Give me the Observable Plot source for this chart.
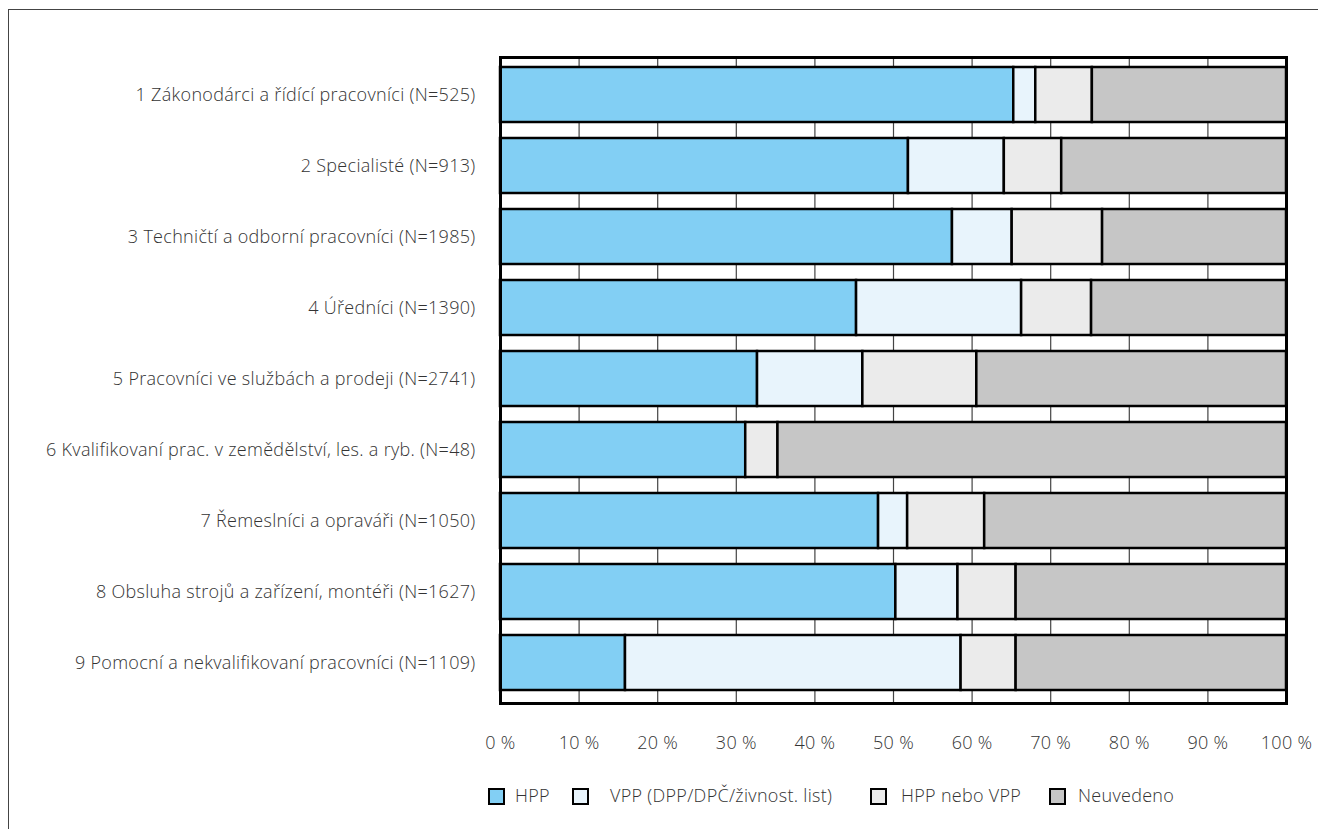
<!DOCTYPE html>
<html><head><meta charset="utf-8">
<script src="https://cdn.jsdelivr.net/npm/d3@7"></script>
<script src="https://cdn.jsdelivr.net/npm/@observablehq/plot@0.6"></script>
<style>
body{margin:0;background:#fff;font-family:"Open Sans",sans-serif;}
#wrap{position:relative;width:1318px;height:829px;overflow:hidden;background:#fff;}
#border{position:absolute;left:8px;top:9px;width:1400px;height:900px;border-left:1.5px solid #444;border-top:1.5px solid #444;}
#chart{position:absolute;left:0;top:0;}
#chart svg text{letter-spacing:0.3px;}
#legend{position:absolute;left:0;top:770px;width:1318px;height:59px;}
.sw{position:absolute;top:18px;width:13px;height:13px;border:2.5px solid #000;}
.lt{position:absolute;top:13px;font-size:18px;font-weight:300;color:#333;white-space:nowrap;line-height:24px;letter-spacing:0.3px;}
</style></head>
<body>
<div id="wrap"><div id="border"></div><div id="chart"></div><div id="legend"></div></div>
<script>
const categories = [
  "1 Zákonodárci a řídící pracovníci (N=525)",
  "2 Specialisté (N=913)",
  "3 Techničtí a odborní pracovníci (N=1985)",
  "4 Úředníci (N=1390)",
  "5 Pracovníci ve službách a prodeji (N=2741)",
  "6 Kvalifikovaní prac. v zemědělství, les. a ryb. (N=48)",
  "7 Řemeslníci a opraváři (N=1050)",
  "8 Obsluha strojů a zařízení, montéři (N=1627)",
  "9 Pomocní a nekvalifikovaní pracovníci (N=1109)"
];
const seriesNames = ["HPP", "VPP (DPP/DPČ/živnost. list)", "HPP nebo VPP", "Neuvedeno"];
const hpp       = [65.3, 51.9, 57.5, 45.3, 32.7, 31.2, 48.1, 50.3, 15.9];
const vpp       = [2.8, 12.2, 7.6, 21.0, 13.4, 0.0, 3.7, 7.9, 42.7];
const hppNeboVpp= [7.2, 7.3, 11.5, 8.9, 14.5, 4.1, 9.8, 7.4, 7.0];
const neuvedeno = [24.7, 28.6, 23.4, 24.8, 39.4, 64.7, 38.4, 34.4, 34.4];
const tickValues = [0, 10, 20, 30, 40, 50, 60, 70, 80, 90, 100];
const colors = ["#82cff4", "#e8f4fc", "#ebebeb", "#c6c6c6"];

const seriesValues = [hpp, vpp, hppNeboVpp, neuvedeno];
const data = [];
categories.forEach((c, i) => {
  seriesNames.forEach((s, j) => data.push({cat: c, series: s, value: seriesValues[j][i]}));
});

const chart = Plot.plot({
  width: 1318, height: 770,
  marginLeft: 500, marginRight: 32, marginTop: 57, marginBottom: 67,
  style: {fontFamily: "'Open Sans', sans-serif", fontSize: "18px", color: "#333", fontWeight: 300, background: "transparent"},
  x: {domain: [0, 100], label: null},
  y: {domain: categories, paddingInner: 0.228, paddingOuter: 0.147, align: 0.43, label: null},
  color: {domain: seriesNames, range: colors},
  marks: [
    Plot.gridX(tickValues, {stroke: "#444", strokeOpacity: 1, strokeWidth: 1.2}),
    Plot.barX(data, Plot.stackX({x: "value", y: "cat", fill: "series", order: seriesNames, stroke: "#000", strokeWidth: 2.5})),
    Plot.frame({stroke: "#000", strokeWidth: 3}),
    Plot.axisX(tickValues, {tickSize: 0, tickPadding: 33, tickFormat: d => d + " %", label: null}),
    Plot.axisY({tickSize: 0, tickPadding: 25, label: null})
  ]
});
document.getElementById("chart").appendChild(chart);

const legendPos = [[488, 515], [572, 610], [870, 901], [1049, 1078]];
const legend = document.getElementById("legend");
seriesNames.forEach((s, i) => {
  const sw = document.createElement("div");
  sw.className = "sw";
  sw.style.left = legendPos[i][0] + "px";
  sw.style.background = colors[i];
  legend.appendChild(sw);
  const t = document.createElement("div");
  t.className = "lt";
  t.style.left = legendPos[i][1] + "px";
  t.textContent = s;
  legend.appendChild(t);
});
</script>
</body></html>
